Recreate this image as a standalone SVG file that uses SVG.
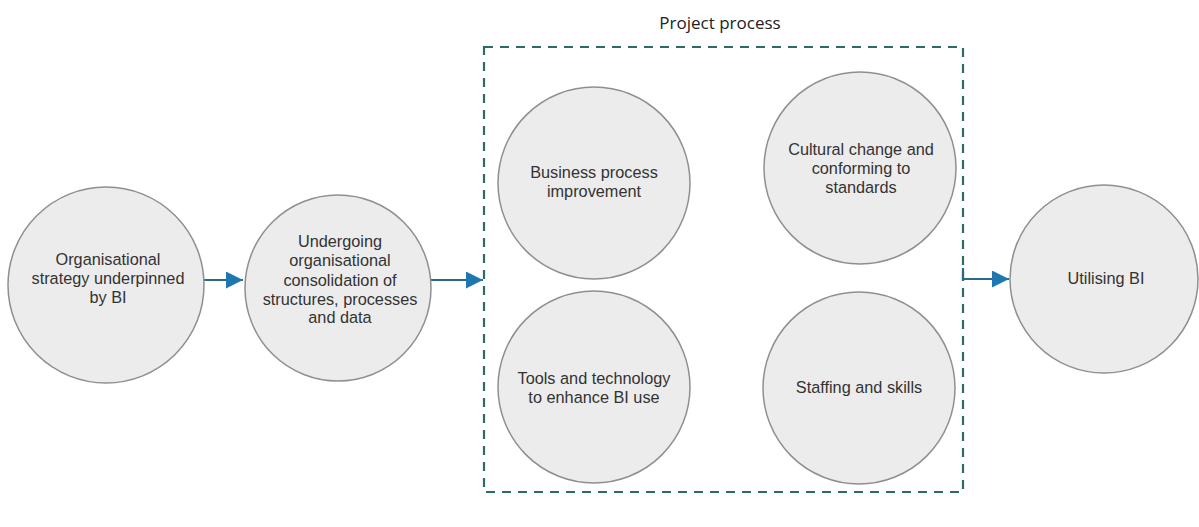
<svg xmlns="http://www.w3.org/2000/svg" width="1199" height="527" viewBox="0 0 1199 527">
<defs>
<style>
.node circle{fill:#ececec;stroke:#8f8f8f;stroke-width:1.5}
.node text{font-family:"Liberation Sans",Arial,sans-serif;font-size:16.3px;fill:#333;text-anchor:middle}
.conn{stroke:#2a6a86;stroke-width:2.2;fill:none}
.box{fill:none;stroke:#2c6b67;stroke-width:2.2;stroke-dasharray:9 7}
.title{font-family:"Open Sans","Noto Sans",sans-serif;font-size:17px;fill:#222;text-anchor:middle}
</style>
<marker id="arr" markerWidth="18" markerHeight="18" refX="17" refY="8.5" orient="auto" markerUnits="userSpaceOnUse">
<path d="M0,0 L17,8.5 L0,17 Z" fill="#1f77b0"/>
</marker>
</defs>
<rect width="1199" height="527" fill="#fff"/>
<g id="group-project">
<rect class="box" x="484" y="47" width="479" height="445"/>
<text class="title" x="720" y="29">Project process</text>
</g>
<g id="connectors">
<line class="conn" x1="203" y1="280" x2="243" y2="280" marker-end="url(#arr)"/>
<line class="conn" x1="431" y1="280" x2="483" y2="280" marker-end="url(#arr)"/>
<polyline class="conn" points="963,268 963,279 1009,279" marker-end="url(#arr)"/>
</g>
<g id="n1" class="node">
<circle cx="106" cy="285" r="98"/>
<text x="108" y="265">Organisational</text>
<text x="108" y="284">strategy underpinned</text>
<text x="108" y="303">by BI</text>
</g>
<g id="n2" class="node">
<circle cx="338" cy="288" r="93"/>
<text x="340" y="247">Undergoing</text>
<text x="340" y="266">organisational</text>
<text x="340" y="286">consolidation of</text>
<text x="340" y="305">structures, processes</text>
<text x="340" y="323">and data</text>
</g>
<g id="n3" class="node">
<circle cx="594" cy="183" r="96"/>
<text x="594" y="178">Business process</text>
<text x="594" y="197">improvement</text>
</g>
<g id="n4" class="node">
<circle cx="860" cy="168" r="96"/>
<text x="861" y="155">Cultural change and</text>
<text x="861" y="174">conforming to</text>
<text x="861" y="193">standards</text>
</g>
<g id="n5" class="node">
<circle cx="594" cy="387" r="96"/>
<text x="594" y="384">Tools and technology</text>
<text x="594" y="403">to enhance BI use</text>
</g>
<g id="n6" class="node">
<circle cx="859" cy="388" r="96"/>
<text x="859" y="393">Staffing and skills</text>
</g>
<g id="n7" class="node">
<circle cx="1104" cy="279" r="94"/>
<text x="1106" y="284">Utilising BI</text>
</g>
</svg>
